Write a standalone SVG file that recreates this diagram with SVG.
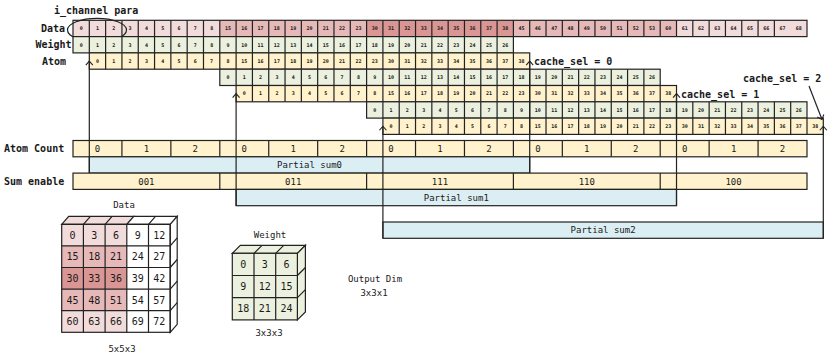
<svg xmlns="http://www.w3.org/2000/svg" xmlns:xlink="http://www.w3.org/1999/xlink" width="830" height="355" viewBox="0 0 830 355">
<style>
.g{stroke:#222;stroke-width:1.2;fill:none}
.bx{stroke:#222;stroke-width:1.2}
.pk1{fill:#f2dcdb}.pk2{fill:#e6b9b8}.pk3{fill:#da9694}.gr{fill:#ebf1de}.ye{fill:#fff2cc}.bl{fill:#dbeef4}.wh{fill:#fff}
text{font-family:"DejaVu Sans Mono","Liberation Mono",monospace;fill:#1a1a1a}
.n{font-size:5px;font-weight:bold;text-anchor:middle}
.lb{font-size:10px;font-weight:bold}
.m{font-size:9px;text-anchor:middle}
.c{font-size:10px;text-anchor:middle}
.con{stroke:#222;stroke-width:1.2;fill:none;marker-end:url(#chev)}
</style>
<defs>
<marker id="chev" markerUnits="userSpaceOnUse" viewBox="-6 -5 8 10" markerWidth="8" markerHeight="10" refX="0" refY="0" orient="auto">
<path d="M-4 -3.5L0 0L-4 3.5" fill="none" stroke="#222" stroke-width="1.1"/>
</marker>
<g id="wrow">
<rect class="gr" width="440.4" height="16.3"/>
<rect class="g" width="440.4" height="16.3"/>
<path class="g" d="M16.311 0v16.3m16.311-16.3v16.3m16.311-16.3v16.3m16.311-16.3v16.3m16.311-16.3v16.3m16.311-16.3v16.3m16.311-16.3v16.3m16.311-16.3v16.3m16.311-16.3v16.3m16.311-16.3v16.3m16.311-16.3v16.3m16.311-16.3v16.3m16.311-16.3v16.3m16.311-16.3v16.3m16.311-16.3v16.3m16.311-16.3v16.3m16.311-16.3v16.3m16.311-16.3v16.3m16.311-16.3v16.3m16.311-16.3v16.3m16.311-16.3v16.3m16.311-16.3v16.3m16.311-16.3v16.3m16.311-16.3v16.3m16.311-16.3v16.3m16.311-16.3v16.3"/>
<text class="n" x="8.16" y="9.95">0</text><text class="n" x="24.47" y="9.95">1</text><text class="n" x="40.78" y="9.95">2</text><text class="n" x="57.09" y="9.95">3</text><text class="n" x="73.40" y="9.95">4</text><text class="n" x="89.71" y="9.95">5</text><text class="n" x="106.02" y="9.95">6</text><text class="n" x="122.33" y="9.95">7</text><text class="n" x="138.64" y="9.95">8</text><text class="n" x="154.95" y="9.95">9</text><text class="n" x="171.26" y="9.95">10</text><text class="n" x="187.58" y="9.95">11</text><text class="n" x="203.89" y="9.95">12</text><text class="n" x="220.20" y="9.95">13</text><text class="n" x="236.51" y="9.95">14</text><text class="n" x="252.82" y="9.95">15</text><text class="n" x="269.13" y="9.95">16</text><text class="n" x="285.44" y="9.95">17</text><text class="n" x="301.75" y="9.95">18</text><text class="n" x="318.06" y="9.95">19</text><text class="n" x="334.38" y="9.95">20</text><text class="n" x="350.69" y="9.95">21</text><text class="n" x="367.00" y="9.95">22</text><text class="n" x="383.31" y="9.95">23</text><text class="n" x="399.62" y="9.95">24</text><text class="n" x="415.93" y="9.95">25</text><text class="n" x="432.24" y="9.95">26</text>
</g>
<g id="arow">
<rect class="ye" width="440.4" height="16.3"/>
<rect class="g" width="440.4" height="16.3"/>
<path class="g" d="M16.311 0v16.3m16.311-16.3v16.3m16.311-16.3v16.3m16.311-16.3v16.3m16.311-16.3v16.3m16.311-16.3v16.3m16.311-16.3v16.3m16.311-16.3v16.3m16.311-16.3v16.3m16.311-16.3v16.3m16.311-16.3v16.3m16.311-16.3v16.3m16.311-16.3v16.3m16.311-16.3v16.3m16.311-16.3v16.3m16.311-16.3v16.3m16.311-16.3v16.3m16.311-16.3v16.3m16.311-16.3v16.3m16.311-16.3v16.3m16.311-16.3v16.3m16.311-16.3v16.3m16.311-16.3v16.3m16.311-16.3v16.3m16.311-16.3v16.3m16.311-16.3v16.3"/>
<text class="n" x="8.16" y="9.95">0</text><text class="n" x="24.47" y="9.95">1</text><text class="n" x="40.78" y="9.95">2</text><text class="n" x="57.09" y="9.95">3</text><text class="n" x="73.40" y="9.95">4</text><text class="n" x="89.71" y="9.95">5</text><text class="n" x="106.02" y="9.95">6</text><text class="n" x="122.33" y="9.95">7</text><text class="n" x="138.64" y="9.95">8</text><text class="n" x="154.95" y="9.95">15</text><text class="n" x="171.26" y="9.95">16</text><text class="n" x="187.58" y="9.95">17</text><text class="n" x="203.89" y="9.95">18</text><text class="n" x="220.20" y="9.95">19</text><text class="n" x="236.51" y="9.95">20</text><text class="n" x="252.82" y="9.95">21</text><text class="n" x="269.13" y="9.95">22</text><text class="n" x="285.44" y="9.95">23</text><text class="n" x="301.75" y="9.95">30</text><text class="n" x="318.06" y="9.95">31</text><text class="n" x="334.38" y="9.95">32</text><text class="n" x="350.69" y="9.95">33</text><text class="n" x="367.00" y="9.95">34</text><text class="n" x="383.31" y="9.95">35</text><text class="n" x="399.62" y="9.95">36</text><text class="n" x="415.93" y="9.95">37</text><text class="n" x="432.24" y="9.95">38</text>
</g>
</defs>
<rect width="830" height="355" fill="#fff"/>

<g id="labels">
<text class="lb" x="54" y="14">i_channel para</text>
<text class="lb" x="65" y="32" text-anchor="end">Data</text>
<text class="lb" x="71.5" y="48.3" text-anchor="end">Weight</text>
<text class="lb" x="66" y="64.6" text-anchor="end">Atom</text>
<text class="lb" x="4" y="152.2">Atom Count</text>
<text class="lb" x="4" y="184.8">Sum enable</text>
<text class="lb" x="534" y="65">cache_sel = 0</text>
<text class="lb" x="681" y="98">cache_sel = 1</text>
<text class="lb" x="743" y="82">cache_sel = 2</text>
</g>

<g id="row-data" transform="translate(73,20.3)">
<rect class="pk1" x="0" width="146.8" height="16.3"/>
<rect class="pk2" x="146.8" width="146.8" height="16.3"/>
<rect class="pk3" x="293.6" width="146.8" height="16.3"/>
<rect class="pk2" x="440.4" width="163.11" height="16.3"/>
<rect class="pk1" x="603.51" width="130.49" height="16.3"/>
<rect class="g" width="734" height="16.3"/>
<path class="g" d="M16.311 0v16.3m16.311-16.3v16.3m16.311-16.3v16.3m16.311-16.3v16.3m16.311-16.3v16.3m16.311-16.3v16.3m16.311-16.3v16.3m16.311-16.3v16.3m16.311-16.3v16.3m16.311-16.3v16.3m16.311-16.3v16.3m16.311-16.3v16.3m16.311-16.3v16.3m16.311-16.3v16.3m16.311-16.3v16.3m16.311-16.3v16.3m16.311-16.3v16.3m16.311-16.3v16.3m16.311-16.3v16.3m16.311-16.3v16.3m16.311-16.3v16.3m16.311-16.3v16.3m16.311-16.3v16.3m16.311-16.3v16.3m16.311-16.3v16.3m16.311-16.3v16.3m16.311-16.3v16.3m16.311-16.3v16.3m16.311-16.3v16.3m16.311-16.3v16.3m16.311-16.3v16.3m16.311-16.3v16.3m16.311-16.3v16.3m16.311-16.3v16.3m16.311-16.3v16.3m16.311-16.3v16.3m16.311-16.3v16.3m16.311-16.3v16.3m16.311-16.3v16.3m16.311-16.3v16.3m16.311-16.3v16.3m16.311-16.3v16.3m16.311-16.3v16.3"/>
<text class="n" x="8.16" y="9.95">0</text><text class="n" x="24.47" y="9.95">1</text><text class="n" x="40.78" y="9.95">2</text><text class="n" x="57.09" y="9.95">3</text><text class="n" x="73.40" y="9.95">4</text><text class="n" x="89.71" y="9.95">5</text><text class="n" x="106.02" y="9.95">6</text><text class="n" x="122.33" y="9.95">7</text><text class="n" x="138.64" y="9.95">8</text><text class="n" x="154.95" y="9.95">15</text><text class="n" x="171.26" y="9.95">16</text><text class="n" x="187.58" y="9.95">17</text><text class="n" x="203.89" y="9.95">18</text><text class="n" x="220.20" y="9.95">19</text><text class="n" x="236.51" y="9.95">20</text><text class="n" x="252.82" y="9.95">21</text><text class="n" x="269.13" y="9.95">22</text><text class="n" x="285.44" y="9.95">23</text><text class="n" x="301.75" y="9.95">30</text><text class="n" x="318.06" y="9.95">31</text><text class="n" x="334.38" y="9.95">32</text><text class="n" x="350.69" y="9.95">33</text><text class="n" x="367.00" y="9.95">34</text><text class="n" x="383.31" y="9.95">35</text><text class="n" x="399.62" y="9.95">36</text><text class="n" x="415.93" y="9.95">37</text><text class="n" x="432.24" y="9.95">38</text><text class="n" x="448.55" y="9.95">45</text><text class="n" x="464.86" y="9.95">46</text><text class="n" x="481.18" y="9.95">47</text><text class="n" x="497.49" y="9.95">48</text><text class="n" x="513.80" y="9.95">49</text><text class="n" x="530.11" y="9.95">50</text><text class="n" x="546.42" y="9.95">51</text><text class="n" x="562.73" y="9.95">52</text><text class="n" x="579.04" y="9.95">53</text><text class="n" x="595.35" y="9.95">60</text><text class="n" x="611.66" y="9.95">61</text><text class="n" x="627.98" y="9.95">62</text><text class="n" x="644.29" y="9.95">63</text><text class="n" x="660.60" y="9.95">64</text><text class="n" x="676.91" y="9.95">65</text><text class="n" x="693.22" y="9.95">66</text><text class="n" x="709.53" y="9.95">67</text><text class="n" x="725.84" y="9.95">68</text>
</g>
<ellipse id="i-channel-mark" cx="97" cy="30" rx="29.5" ry="11.7" class="g"/>

<g id="row-weight-0"><use xlink:href="#wrow" transform="translate(73,36.6)"/></g>
<g id="row-atom-0"><use xlink:href="#arow" transform="translate(89.31,52.9)"/></g>
<g id="row-weight-1"><use xlink:href="#wrow" transform="translate(219.8,69.2)"/></g>
<g id="row-atom-1"><use xlink:href="#arow" transform="translate(236.11,85.5)"/></g>
<g id="row-weight-2"><use xlink:href="#wrow" transform="translate(366.6,101.8)"/></g>
<g id="row-atom-2"><use xlink:href="#arow" transform="translate(382.91,118.1)"/></g>

<g id="atom-count">
<rect class="ye bx" x="73" y="140.5" width="734" height="16.3"/>
<path class="g" d="M121.93 140.5v16.3M170.87 140.5v16.3M219.8 140.5v16.3M268.73 140.5v16.3M317.67 140.5v16.3M366.6 140.5v16.3M415.53 140.5v16.3M464.47 140.5v16.3M513.4 140.5v16.3M562.33 140.5v16.3M611.27 140.5v16.3M660.2 140.5v16.3M709.13 140.5v16.3M758.07 140.5v16.3"/>
<text class="m" x="97.47" y="151.9">0</text><text class="m" x="146.4" y="151.9">1</text><text class="m" x="195.33" y="151.9">2</text>
<text class="m" x="244.27" y="151.9">0</text><text class="m" x="293.2" y="151.9">1</text><text class="m" x="342.13" y="151.9">2</text>
<text class="m" x="391.07" y="151.9">0</text><text class="m" x="440" y="151.9">1</text><text class="m" x="488.93" y="151.9">2</text>
<text class="m" x="537.87" y="151.9">0</text><text class="m" x="586.8" y="151.9">1</text><text class="m" x="635.73" y="151.9">2</text>
<text class="m" x="684.67" y="151.9">0</text><text class="m" x="733.6" y="151.9">1</text><text class="m" x="782.53" y="151.9">2</text>
</g>

<g id="partial-sum0">
<rect class="bl bx" x="89.31" y="156.8" width="440.4" height="16.3"/>
<text class="m" x="309.5" y="168.2">Partial sum0</text>
</g>

<g id="sum-enable">
<rect class="ye bx" x="73" y="173.1" width="734" height="16.3"/>
<path class="g" d="M219.8 173.1v16.3M366.6 173.1v16.3M513.4 173.1v16.3M660.2 173.1v16.3"/>
<text class="m" x="146.4" y="184.5">001</text>
<text class="m" x="293.2" y="184.5">011</text>
<text class="m" x="440" y="184.5">111</text>
<text class="m" x="586.8" y="184.5">110</text>
<text class="m" x="733.6" y="184.5">100</text>
</g>

<g id="partial-sum1">
<rect class="bl bx" x="236.11" y="189.4" width="440.4" height="16.3"/>
<text class="m" x="456.3" y="200.8">Partial sum1</text>
</g>

<g id="partial-sum2">
<rect class="bl bx" x="382.91" y="222" width="440.4" height="16.3"/>
<text class="m" x="603.1" y="233.4">Partial sum2</text>
</g>

<g id="connectors">
<path class="con" d="M89.31 173.1V61.05"/>
<path class="con" d="M529.71 173.1V61.05"/>
<path class="con" d="M236.11 205.7V93.65"/>
<path class="con" d="M676.51 205.7V93.65"/>
<path class="con" d="M382.91 238.3V126.25"/>
<path class="con" d="M823.31 238.3V126.25"/>
<path class="con" d="M809 86L822 119.5"/>
</g>

<g id="cube-data">
<text class="m" x="124" y="208">Data</text>
<rect class="wh" x="61.7" y="224.3" width="108.5" height="108"/>
<rect class="pk1" x="61.7" y="224.3" width="65.1" height="21.6"/>
<rect class="pk2" x="61.7" y="245.9" width="65.1" height="21.6"/>
<rect class="pk3" x="61.7" y="267.5" width="65.1" height="21.6"/>
<rect class="pk2" x="61.7" y="289.1" width="65.1" height="21.6"/>
<rect class="pk1" x="61.7" y="310.7" width="65.1" height="21.6"/>
<polygon class="pk1 bx" points="61.7,224.3 126.8,224.3 133.8,216.3 68.7,216.3"/>
<polygon class="wh bx" points="126.8,224.3 170.2,224.3 177.2,216.3 133.8,216.3"/>
<polygon class="wh bx" points="170.2,224.3 177.2,216.3 177.2,324.3 170.2,332.3"/>
<rect class="g" x="61.7" y="224.3" width="108.5" height="108"/>
<path class="g" d="M83.4 224.3V332.3M105.1 224.3V332.3M126.8 224.3V332.3M148.5 224.3V332.3M61.7 245.9H170.2M61.7 267.5H170.2M61.7 289.1H170.2M61.7 310.7H170.2M83.4 224.3l7-8M105.1 224.3l7-8M148.5 224.3l7-8M170.2 245.9l7-8M170.2 267.5l7-8M170.2 289.1l7-8M170.2 310.7l7-8"/>
<text class="c" x="72.55" y="238.7">0</text><text class="c" x="94.25" y="238.7">3</text><text class="c" x="115.95" y="238.7">6</text><text class="c" x="137.65" y="238.7">9</text><text class="c" x="159.35" y="238.7">12</text>
<text class="c" x="72.55" y="260.3">15</text><text class="c" x="94.25" y="260.3">18</text><text class="c" x="115.95" y="260.3">21</text><text class="c" x="137.65" y="260.3">24</text><text class="c" x="159.35" y="260.3">27</text>
<text class="c" x="72.55" y="281.9">30</text><text class="c" x="94.25" y="281.9">33</text><text class="c" x="115.95" y="281.9">36</text><text class="c" x="137.65" y="281.9">39</text><text class="c" x="159.35" y="281.9">42</text>
<text class="c" x="72.55" y="303.5">45</text><text class="c" x="94.25" y="303.5">48</text><text class="c" x="115.95" y="303.5">51</text><text class="c" x="137.65" y="303.5">54</text><text class="c" x="159.35" y="303.5">57</text>
<text class="c" x="72.55" y="325.1">60</text><text class="c" x="94.25" y="325.1">63</text><text class="c" x="115.95" y="325.1">66</text><text class="c" x="137.65" y="325.1">69</text><text class="c" x="159.35" y="325.1">72</text>
<text class="m" x="122" y="352">5x5x3</text>
</g>

<g id="cube-weight">
<text class="m" x="270" y="238">Weight</text>
<polygon class="gr bx" points="232.3,253.3 297.4,253.3 305.4,245.3 240.3,245.3"/>
<polygon class="gr bx" points="297.4,253.3 305.4,245.3 305.4,311.9 297.4,319.9"/>
<rect class="gr bx" x="232.3" y="253.3" width="65.1" height="66.6"/>
<path class="g" d="M254 253.3V319.9M275.7 253.3V319.9M232.3 275.5H297.4M232.3 297.7H297.4M254 253.3l8-8M275.7 253.3l8-8M297.4 275.5l8-8M297.4 297.7l8-8"/>
<text class="c" x="243.15" y="268">0</text><text class="c" x="264.85" y="268">3</text><text class="c" x="286.55" y="268">6</text>
<text class="c" x="243.15" y="290.2">9</text><text class="c" x="264.85" y="290.2">12</text><text class="c" x="286.55" y="290.2">15</text>
<text class="c" x="243.15" y="312.4">18</text><text class="c" x="264.85" y="312.4">21</text><text class="c" x="286.55" y="312.4">24</text>
<text class="m" x="269" y="336">3x3x3</text>
</g>

<g id="output-dim">
<text class="m" x="375" y="282">Output Dim</text>
<text class="m" x="374" y="296">3x3x1</text>
</g>
</svg>
